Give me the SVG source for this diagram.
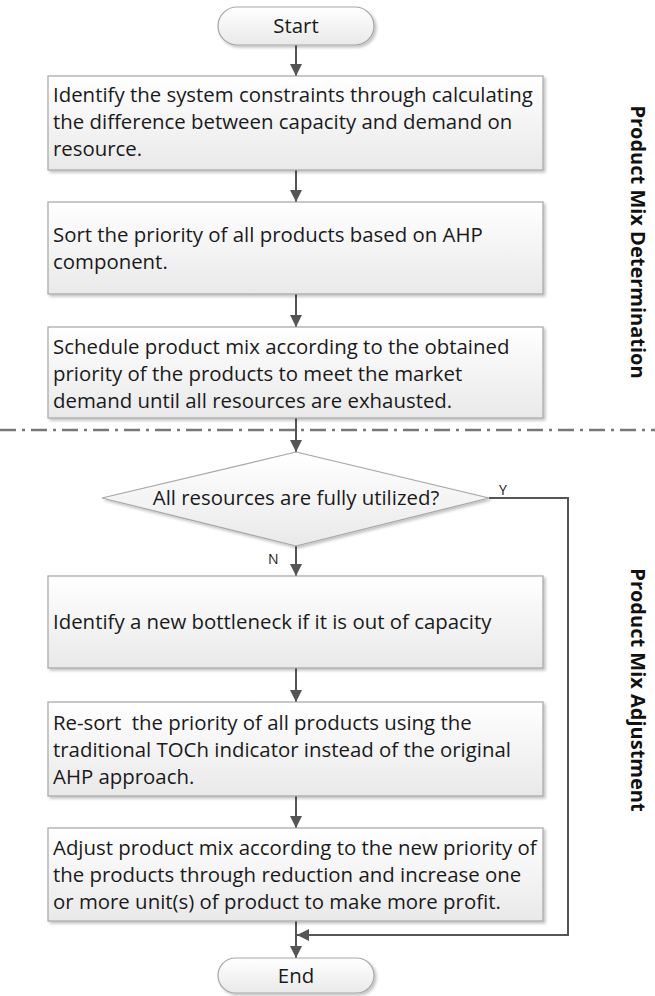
<svg xmlns="http://www.w3.org/2000/svg" width="655" height="996" viewBox="0 0 655 996">
  <defs>
    <linearGradient id="boxFill" x1="0" y1="0" x2="0" y2="1">
      <stop offset="0" stop-color="#ffffff"/>
      <stop offset="1" stop-color="#e9e9e9"/>
    </linearGradient>
    <filter id="shadow" x="-5%" y="-5%" width="115%" height="125%">
      <feGaussianBlur in="SourceAlpha" stdDeviation="1.5"/>
      <feOffset dx="2" dy="2" result="b"/>
      <feComponentTransfer><feFuncA type="linear" slope="0.25"/></feComponentTransfer>
      <feMerge><feMergeNode/><feMergeNode in="SourceGraphic"/></feMerge>
    </filter>
    <marker id="arrow" viewBox="0 0 12 12" refX="12" refY="6" markerWidth="12" markerHeight="12" markerUnits="userSpaceOnUse" orient="auto">
      <path d="M0,0 L12,6 L0,12 Z" fill="#555555"/>
    </marker>
  </defs>
  <style>
    .shape { fill: url(#boxFill); stroke: #a6a6a6; stroke-width: 1.2; filter: url(#shadow); }
    .txt { font-family: "Open Sans", "Liberation Sans", sans-serif; font-size: 20.4px; fill: #1a1a1a; white-space: pre; }
    .mid { text-anchor: middle; }
    .lbl { font-family: "Open Sans", "Liberation Sans", sans-serif; font-size: 14px; fill: #1a1a1a; }
    .side { font-family: "Open Sans", "Liberation Sans", sans-serif; font-size: 20px; font-weight: bold; fill: #111111; text-anchor: middle; }
    .conn { fill: none; stroke: #555555; stroke-width: 2; }
    .sep { stroke: #777777; stroke-width: 2.5; stroke-dasharray: 16 6 3 6; }
  </style>

  <!-- phase separator -->
  <line class="sep" x1="0" y1="430" x2="655" y2="430"/>

  <!-- connectors -->
  <g id="connectors">
    <line class="conn" x1="296" y1="45" x2="296" y2="76" marker-end="url(#arrow)"/>
    <line class="conn" x1="296" y1="170" x2="296" y2="202" marker-end="url(#arrow)"/>
    <line class="conn" x1="296" y1="294" x2="296" y2="327" marker-end="url(#arrow)"/>
    <line class="conn" x1="296" y1="418" x2="296" y2="452" marker-end="url(#arrow)"/>
    <line class="conn" x1="296" y1="546" x2="296" y2="576" marker-end="url(#arrow)"/>
    <line class="conn" x1="296" y1="668" x2="296" y2="702" marker-end="url(#arrow)"/>
    <line class="conn" x1="296" y1="796" x2="296" y2="828" marker-end="url(#arrow)"/>
    <line class="conn" x1="296" y1="921" x2="296" y2="958" marker-end="url(#arrow)"/>
    <polyline class="conn" points="489,498 568,498 568,935 297,935" marker-end="url(#arrow)"/>
    <text class="lbl" x="499" y="495">Y</text>
    <text class="lbl" x="268" y="564">N</text>
  </g>

  <g id="start">
    <rect class="shape" x="218" y="7" width="156" height="38" rx="19"/>
    <text class="txt mid" x="296" y="33">Start</text>
  </g>

  <g id="identify-constraints">
    <rect class="shape" x="48" y="76" width="495" height="94"/>
    <text class="txt" x="53" y="102">Identify the system constraints through calculating</text>
    <text class="txt" x="53" y="129">the difference between capacity and demand on</text>
    <text class="txt" x="53" y="156">resource.</text>
  </g>

  <g id="sort-priority">
    <rect class="shape" x="48" y="202" width="495" height="92"/>
    <text class="txt" x="53" y="242">Sort the priority of all products based on AHP</text>
    <text class="txt" x="53" y="269">component.</text>
  </g>

  <g id="schedule-mix">
    <rect class="shape" x="48" y="327" width="495" height="91"/>
    <text class="txt" x="53" y="354">Schedule product mix according to the obtained</text>
    <text class="txt" x="53" y="381">priority of the products to meet the market</text>
    <text class="txt" x="53" y="408">demand until all resources are exhausted.</text>
  </g>

  <g id="decision">
    <polygon class="shape" points="296,452 489,498 296,546 102,498"/>
    <text class="txt mid" x="296" y="505">All resources are fully utilized?</text>
  </g>

  <g id="new-bottleneck">
    <rect class="shape" x="48" y="576" width="495" height="92"/>
    <text class="txt" x="53" y="629">Identify a new bottleneck if it is out of capacity</text>
  </g>

  <g id="resort-priority">
    <rect class="shape" x="48" y="702" width="495" height="94"/>
    <text class="txt" x="53" y="730" xml:space="preserve">Re-sort  the priority of all products using the</text>
    <text class="txt" x="53" y="757">traditional TOCh indicator instead of the original</text>
    <text class="txt" x="53" y="784">AHP approach.</text>
  </g>

  <g id="adjust-mix">
    <rect class="shape" x="48" y="828" width="495" height="93"/>
    <text class="txt" x="53" y="855">Adjust product mix according to the new priority of</text>
    <text class="txt" x="53" y="882">the products through reduction and increase one</text>
    <text class="txt" x="53" y="909">or more unit(s) of product to make more profit.</text>
  </g>

  <g id="end">
    <rect class="shape" x="218" y="958" width="156" height="35" rx="17.5"/>
    <text class="txt mid" x="296" y="983">End</text>
  </g>

  <!-- phase titles -->
  <g id="phase-determination">
    <text class="side" transform="translate(631,242) rotate(90)">Product Mix Determination</text>
  </g>
  <g id="phase-adjustment">
    <text class="side" transform="translate(631,690) rotate(90)">Product Mix Adjustment</text>
  </g>
</svg>
